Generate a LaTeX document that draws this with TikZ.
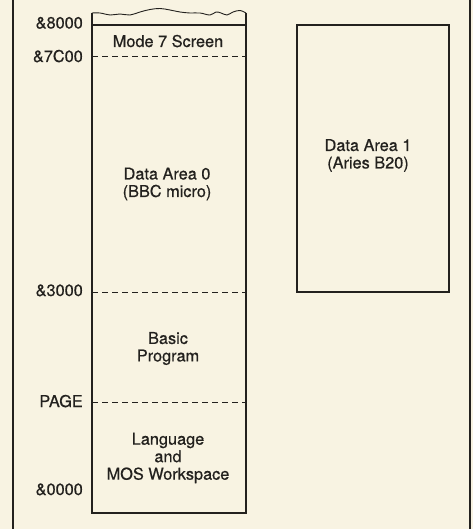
\documentclass[tikz,border=0pt]{standalone}
\usepackage{fontspec}
\setmainfont{TeX Gyre Heros}[UprightFeatures={FakeBold=0.6}]
\definecolor{paper}{RGB}{248,243,226}
\definecolor{inkc}{RGB}{35,33,30}
\begin{document}
\begin{tikzpicture}[x=1pt,y=-1pt,
  frame/.style={draw=inkc, line width=2pt},
  ink/.style={draw=inkc, line width=1.1pt},
  divider/.style={draw=inkc, line width=0.9pt, dash pattern=on 6pt off 4pt},
  addr/.style={anchor=base east, text=inkc, font=\fontsize{16.3}{17.5}\selectfont, inner sep=0pt},
  lbl/.style={align=center, text=inkc, font=\fontsize{16.3}{17.5}\selectfont, inner sep=0pt}]
  % background
  \fill[paper] (0,0) rectangle (473,529);
  \useasboundingbox (0,0) rectangle (473,529);
  % outer frame lines
  \draw[frame] (12.5,0) -- (12.5,529);
  \draw[frame] (469.5,0) -- (469.5,529);
  % main memory column
  \coordinate (cTL) at (92,13);
  \coordinate (cTR) at (246,13);
  \coordinate (cBL) at (92,513);
  \coordinate (cBR) at (246,513);
  \draw[ink] (cTL) -- (cBL) -- (cBR) -- (cTR);
  \draw[ink, line width=0.9pt] plot[smooth, tension=0.6] coordinates {(92,13) (100,13) (110,15) (120,14) (130,15) (140,12) (150,9.5) (160,8.5) (170,10) (180,12) (190,13) (200,13) (210,15) (216,12) (221,13) (227,15) (233,12) (240,10.5) (246,13)};
  \draw[ink] (92,25) -- (246,25);
  \draw[divider] (92,56) -- (246,56);
  \draw[divider] (92,292) -- (246,292);
  \draw[divider] (92,402) -- (246,402);
  % addresses
  \node[addr] (a8000) at (83,28.5) {\&8000};
  \node[addr] (a7C00) at (83,62) {\&7C00};
  \node[addr] (a3000) at (83,296) {\&3000};
  \node[addr] (apage) at (83,407) {PAGE};
  \node[addr] (a0000) at (83,495) {\&0000};
  % column labels
  \node[lbl, anchor=base] (mode7) at (168,47) {Mode 7 Screen};
  \node[lbl] (data0) at (167,184) {Data Area 0\\(BBC micro)};
  \node[lbl] (basic) at (168,348.5) {Basic\\Program};
  \node[lbl] (lang) at (168,458) {Language\\and\\MOS Workspace};
  % data area 1
  \draw[ink] (297,25) rectangle (449,292);
  \node[lbl] (data1) at (368,155.5) {Data Area 1\\(Aries B20)};
\end{tikzpicture}
\end{document}
